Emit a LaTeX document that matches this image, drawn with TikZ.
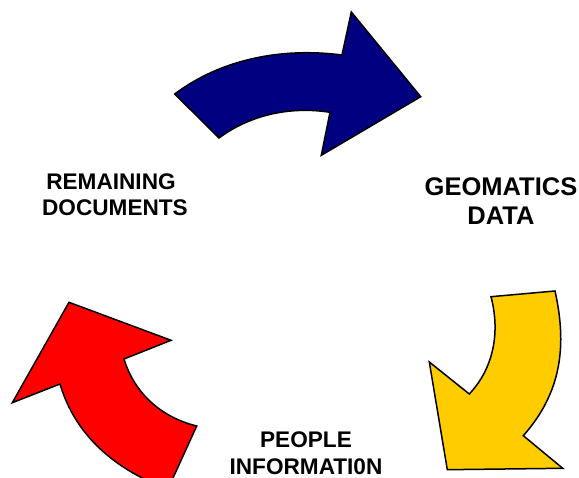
\documentclass[tikz,border=0pt]{standalone}
\usepackage{fontspec}
\setmainfont{Liberation Sans}
\definecolor{navyarrow}{RGB}{0,0,128}
\definecolor{goldarrow}{RGB}{255,204,0}
\definecolor{redarrow}{RGB}{255,0,0}
\tikzset{
  arrowshape/.style={draw=black,line width=1.5pt,line join=miter,miter limit=10},
  smalllabel/.style={font=\fontsize{22.6}{27}\selectfont\bfseries,align=center,inner sep=0pt,anchor=base},
  biglabel/.style={font=\fontsize{25.5}{29}\selectfont\bfseries,align=center,inner sep=0pt,anchor=base}
}
\begin{document}
\begin{tikzpicture}[x=1pt,y=-1pt]
\useasboundingbox (0,0) rectangle (579,478);
\clip (0,0) rectangle (579,478);
\path[arrowshape,fill=navyarrow] (174.7,94) .. controls (220,60) and (280,47) .. (342,55)
  -- (351.3,12) -- (420.7,96.7) -- (321.3,155.3) -- (330,112.3)
  .. controls (290,106) and (250,115) .. (219,138) -- cycle;
\path[arrowshape,fill=goldarrow] (491,296.7) -- (555,291)
  .. controls (567,345) and (562,392) .. (523.3,435.7)
  -- (562.7,468.3) -- (447.3,469.7) -- (429.3,362) -- (469.3,394)
  .. controls (492,370) and (501,335) .. (491,296.7) -- cycle;
\path[arrowshape,fill=redarrow] (69,302.3) -- (171,340.3) -- (124,359)
  .. controls (134,392) and (160,417) .. (196.7,426)
  -- (168,489)
  .. controls (115,470) and (75,435) .. (60,384)
  -- (12.3,402.7) -- cycle;
\path (111,190) node[smalllabel] (remaining) {REMAINING};
\path (115,216) node[smalllabel] (documents) {DOCUMENTS};
\path (501,196) node[biglabel] (geomatics) {GEOMATICS};
\path (501,225) node[biglabel] (geodata) {DATA};
\path (306,448) node[smalllabel] (people) {PEOPLE};
\path (306,475) node[smalllabel] (information) {INFORMATI0N};
\end{tikzpicture}
\end{document}
